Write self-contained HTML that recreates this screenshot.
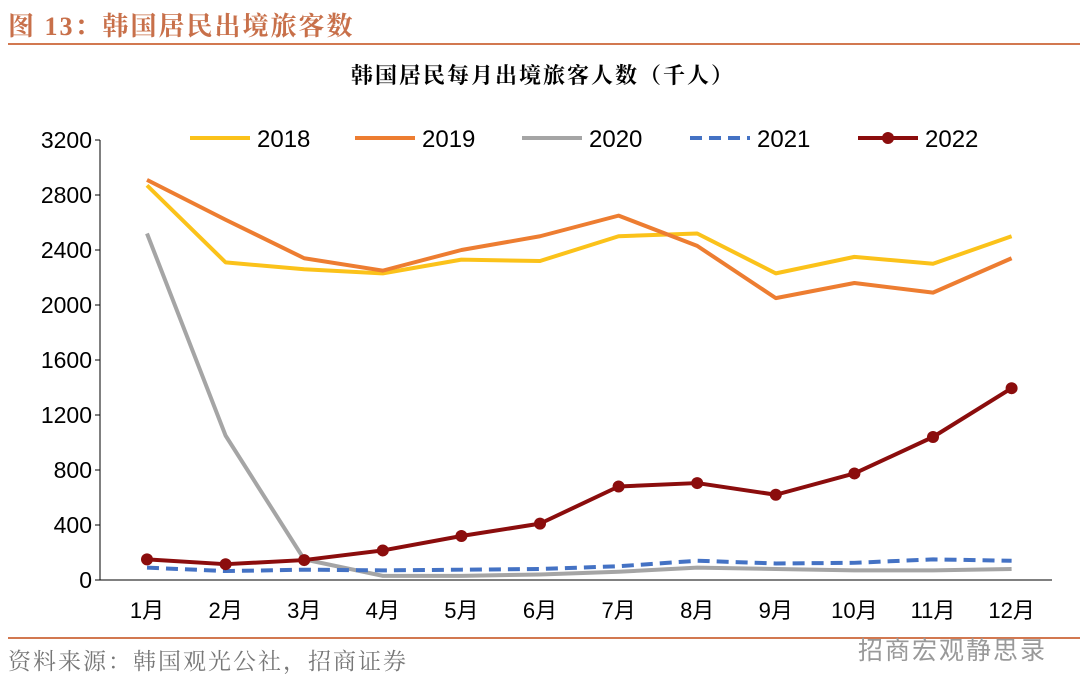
<!DOCTYPE html>
<html><head><meta charset="utf-8"><style>
body{margin:0;width:1080px;height:694px;background:#fff;overflow:hidden;position:relative;font-family:"Liberation Serif","Noto Serif CJK SC",serif}
</style></head><body>
<div style="position:absolute;left:8px;top:6px;font-size:26px;font-weight:bold;color:#c8704a;letter-spacing:2px">图 13：韩国居民出境旅客数</div>
<div style="position:absolute;left:8px;top:43px;width:1072px;height:2px;background:#d27850"></div>
<svg width="1080" height="694" style="position:absolute;left:0;top:0" id="svg"></svg>
<div style="position:absolute;left:8px;top:637px;width:1072px;height:2px;background:#d27850"></div>
<div style="position:absolute;left:8px;top:643px;font-size:23px;color:#777;letter-spacing:2px;font-family:'Liberation Serif','Noto Serif CJK SC',serif">资料来源：韩国观光公社，招商证券</div>
<div style="position:absolute;left:858px;top:631px;font-size:25px;letter-spacing:2px;color:#999;font-family:'Liberation Sans','Noto Sans CJK SC',sans-serif">招商宏观静思录</div>
<script>
const months=["1月","2月","3月","4月","5月","6月","7月","8月","9月","10月","11月","12月"];
const yTicks=[0,400,800,1200,1600,2000,2400,2800,3200];
const s2018=[2870,2310,2260,2230,2330,2320,2500,2520,2230,2350,2300,2500];
const s2019=[2910,2620,2340,2250,2400,2500,2650,2430,2050,2160,2090,2340];
const s2020=[2520,1050,150,30,30,40,60,90,80,70,70,80];
const s2021=[90,65,75,70,75,80,100,140,120,125,150,140];
const s2022=[150,115,145,215,320,410,680,705,620,775,1040,1395];
const NS="http://www.w3.org/2000/svg",svg=document.getElementById('svg');
const x=i=>147+i*78.6, y=v=>580-v*0.1375;
function mk(t,a,p){const e=document.createElementNS(NS,t);for(const k in a)e.setAttribute(k,a[k]);(p||svg).appendChild(e);return e;}
let ct=mk('text',{x:543,y:83,'text-anchor':'middle','font-size':22,'font-weight':'bold','letter-spacing':2,'font-family':'"Liberation Serif","Noto Serif CJK SC",serif'});ct.textContent='韩国居民每月出境旅客人数（千人）';


let ax=mk('path',{d:'M100,140V580H1052',stroke:'#000','stroke-width':1,fill:'none'});


yTicks.forEach(v=>{let t=mk('text',{x:92,y:y(v)+8,'text-anchor':'end','font-size':23,'font-family':'"Liberation Sans",sans-serif'});t.textContent=v;


mk('line',{x1:95,x2:100,y1:y(v),y2:y(v),stroke:'#000'});});
months.forEach((m,i)=>{let t=mk('text',{x:x(i),y:618,'text-anchor':'middle','font-size':22,'font-family':'"Liberation Sans","Noto Sans CJK SC",sans-serif'});t.textContent=m;

});
const series=[["2018",s2018,"#fbc21a",""],["2019",s2019,"#ed7d31",""],["2020",s2020,"#a5a5a5",""],["2021",s2021,"#4472c4","12,7"],["2022",s2022,"#8b0d0d",""]];
const lx=[190,355,522,690,858];
series.forEach(([n,d,c,da],k)=>{
 let p=mk('polyline',{points:d.map((v,i)=>x(i)+','+y(v)).join(' '),fill:'none',stroke:c,'stroke-width':4,'stroke-dasharray':da,'stroke-linejoin':'round'});
 
 
 if(n==="2022")d.forEach((v,i)=>{let m=mk('circle',{cx:x(i),cy:y(v),r:6,fill:c});
 
 });
 let g=mk('g',{});
 
 
 mk('line',{x1:lx[k],x2:lx[k]+60,y1:138,y2:138,stroke:c,'stroke-width':4,'stroke-dasharray':da},g);
 if(n==="2022")mk('circle',{cx:lx[k]+30,cy:138,r:6,fill:c},g);
 let t=mk('text',{x:lx[k]+67,y:147,'font-size':24,'font-family':'"Liberation Sans",sans-serif'},g);t.textContent=n;
});
</script>
</body></html>
